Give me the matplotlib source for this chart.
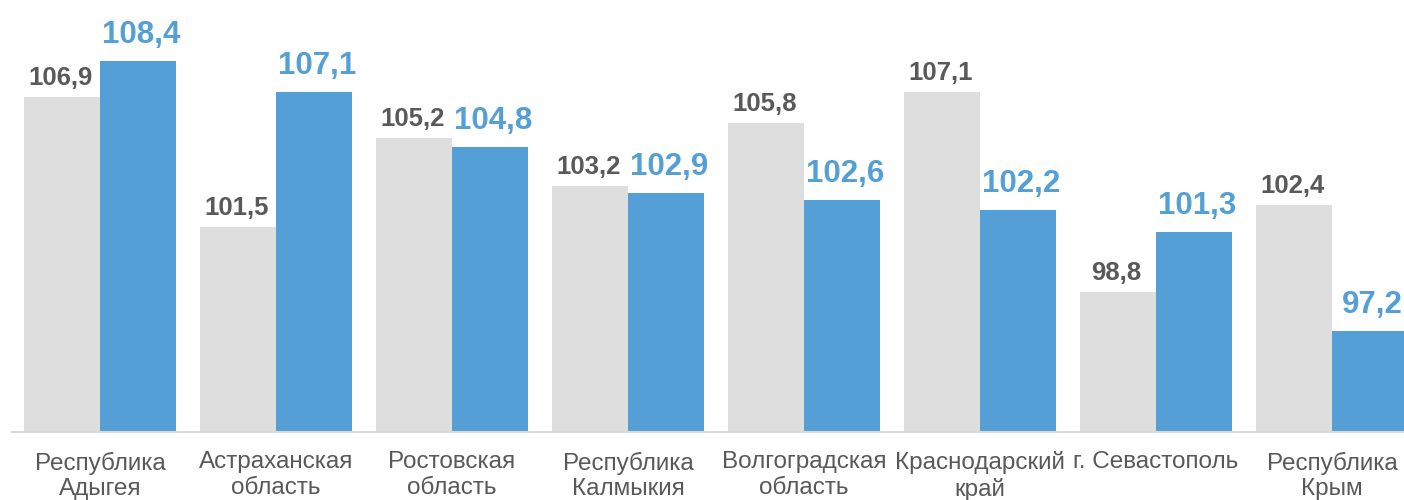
import matplotlib
matplotlib.use("Agg")
import matplotlib.pyplot as plt
import numpy as np

plt.rcParams['font.family'] = ['Liberation Sans', 'DejaVu Sans']

categories = ["Республика\nАдыгея", "Астраханская\nобласть", "Ростовская\nобласть",
              "Республика\nКалмыкия", "Волгоградская\nобласть", "Краснодарский\nкрай",
              "г. Севастополь", "Республика\nКрым"]
series_gray = [106.9, 101.5, 105.2, 103.2, 105.8, 107.1, 98.8, 102.4]
series_blue = [108.4, 107.1, 104.8, 102.9, 102.6, 102.2, 101.3, 97.2]

GRAY = "#dedede"
BLUE = "#539fd6"
TXT = "#595959"

fig = plt.figure(figsize=(14.04, 5.0), dpi=100)
ax = fig.add_axes([12/1404, 68/500, 1 - 12/1404, 1 - 68/500 - 22/500])

x = np.arange(len(categories))
w = 0.432
ax.bar(x - w/2, series_gray, width=w, color=GRAY)
ax.bar(x + w/2, series_blue, width=w, color=BLUE)

ax.set_ylim(93, 110)
ax.set_xlim(-0.5, (1404 - 100) / 176)

for xi, v in zip(x, series_gray):
    ax.annotate(f"{v:.1f}".replace(".", ","), (xi - w/2, v), xytext=(-1, 8.5),
                textcoords="offset points", ha="center", va="baseline",
                fontsize=18.5, fontweight="bold", color=TXT, annotation_clip=False)
for xi, v in zip(x, series_blue):
    ax.annotate(f"{v:.1f}".replace(".", ","), (xi + w/2, v), xytext=(2, 13),
                textcoords="offset points", ha="center", va="baseline",
                fontsize=22.5, fontweight="bold", color=BLUE, annotation_clip=False)

ax.set_xticks(x)
ax.set_xticklabels(categories, fontsize=17.5, color=TXT, linespacing=1.22)
ax.tick_params(axis="x", length=0, pad=14)
ax.set_yticks([])
for s in ["top", "right", "left"]:
    ax.spines[s].set_visible(False)
ax.spines["bottom"].set_color("#d9d9d9")
ax.spines["bottom"].set_linewidth(1.5)

fig.savefig("out.png", dpi=100)
